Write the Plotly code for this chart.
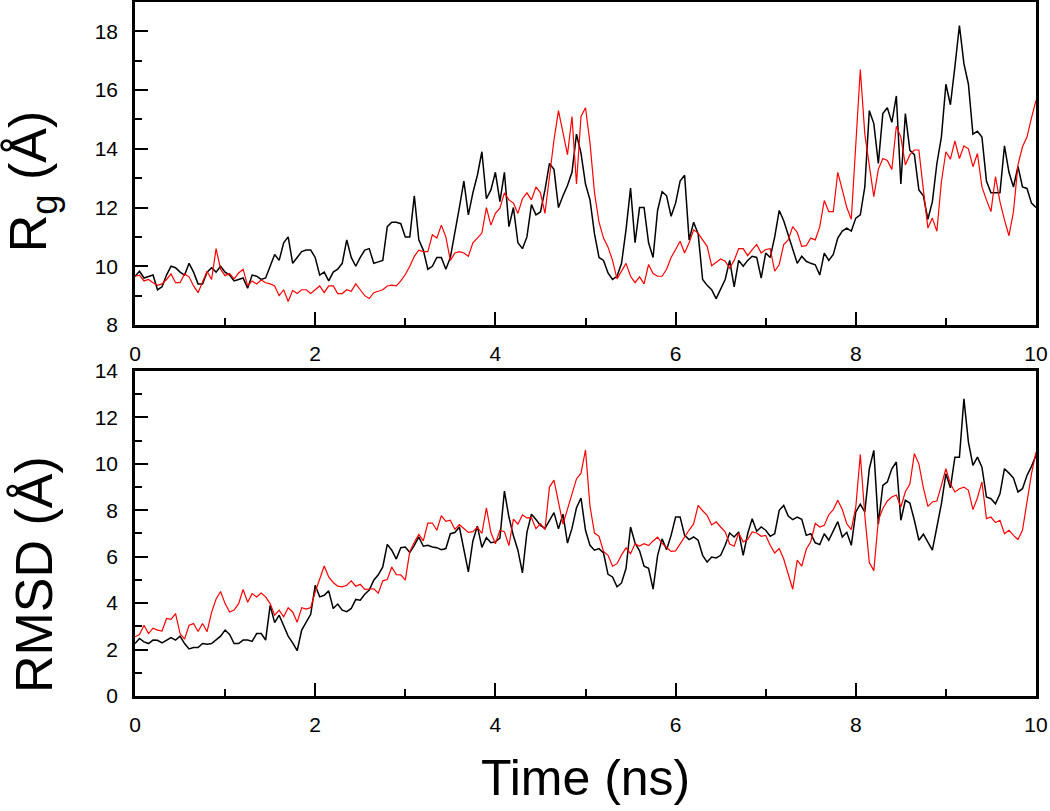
import numpy as np
import plotly.graph_objs as go

# tempo de simulacao (ns), amostrado a cada 0.05 ns
time_ns = np.round(np.arange(201) * 0.05, 2)

# raio de giro (A) - curva preta
rg_black = [
    9.66, 9.83, 9.6, 9.65, 9.7, 9.2, 9.3, 9.7, 10.0, 9.95,
    9.8, 9.7, 10.1, 9.8, 9.4, 9.4, 9.8, 9.95, 9.8, 10.0,
    9.8, 9.7, 9.5, 9.55, 9.6, 9.25, 9.7, 9.66, 9.55, 9.6,
    10.0, 10.4, 10.2, 10.8, 11.0, 10.1, 10.3, 10.5, 10.55, 10.55,
    10.3, 9.7, 9.8, 9.5, 9.8, 9.9, 10.1, 10.9, 10.3, 10.0,
    10.3, 10.55, 10.6, 10.1, 10.15, 10.2, 11.35, 11.5, 11.5, 11.45,
    11.0, 11.0, 12.4, 10.9, 10.55, 9.9, 10.0, 10.3, 10.3, 9.9,
    10.3, 11.1, 12.0, 12.9, 11.75, 12.5, 13.1, 13.9, 12.3, 12.6,
    13.2, 12.2, 13.2, 11.35, 12.0, 10.8, 10.6, 11.0, 12.1, 11.75,
    11.85, 12.6, 13.5, 13.3, 12.0, 12.4, 12.75, 13.2, 14.5, 13.85,
    12.8, 12.26, 11.1, 10.3, 10.2, 9.77, 9.55, 9.66, 10.1, 11.25,
    12.66, 10.8, 12.0, 12.0, 10.8, 10.3, 11.9, 12.54, 12.4, 11.7,
    12.15, 12.9, 13.1, 10.9, 11.5, 11.1, 9.55, 9.35, 9.2, 8.9,
    9.2, 9.55, 10.2, 9.3, 10.2, 10.0, 10.2, 10.34, 10.3, 9.6,
    10.45, 10.3, 11.0, 11.9, 11.55, 11.07, 10.6, 10.1, 10.34, 10.17,
    10.1, 10.05, 9.7, 10.45, 10.2, 10.4, 10.96, 11.2, 11.3, 11.2,
    11.64, 11.75, 12.7, 15.3, 14.86, 13.5, 15.2, 15.4, 14.9, 15.8,
    12.8, 15.2, 13.95, 13.8, 12.6, 12.4, 11.6, 12.2, 13.5, 14.4,
    16.2, 15.5, 16.8, 18.2, 16.9, 16.2, 14.5, 14.6, 14.4, 12.9,
    12.5, 12.5, 12.5, 14.1, 13.2, 12.7, 13.4, 12.7, 12.65, 12.15,
    12.0,
]

# raio de giro (A) - curva vermelha
rg_red = [
    9.66, 9.7, 9.5, 9.55, 9.44, 9.35, 9.4, 9.55, 9.74, 9.44,
    9.44, 9.74, 9.64, 9.33, 9.1, 9.5, 9.83, 9.55, 10.6, 9.9,
    9.68, 9.75, 9.57, 9.77, 9.9, 9.33, 9.5, 9.4, 9.53, 9.44,
    9.4, 9.33, 9.0, 9.2, 8.8, 9.18, 9.07, 9.2, 9.2, 9.07,
    9.2, 9.33, 9.1, 9.33, 9.33, 9.07, 9.07, 9.2, 9.15, 9.4,
    9.2, 9.0, 8.9, 9.1, 9.15, 9.2, 9.33, 9.36, 9.33, 9.5,
    9.72, 10.0, 10.34, 10.55, 10.5, 10.5, 11.07, 10.96, 11.4, 11.0,
    10.2, 10.45, 10.5, 10.45, 10.34, 10.8, 10.96, 11.13, 12.0, 11.4,
    11.8, 11.98, 12.5, 12.26, 12.15, 11.8, 12.3, 12.5, 12.26, 12.7,
    12.5, 11.8, 13.05, 14.3, 15.3, 14.5, 13.8, 15.1, 12.8, 15.1,
    15.4, 14.2, 12.5, 11.5, 10.96, 10.65, 10.2, 9.57, 9.83, 10.1,
    9.66, 9.44, 9.64, 9.4, 10.06, 9.75, 9.66, 9.66, 9.9, 10.3,
    10.57, 10.85, 10.45, 10.8, 11.24, 11.13, 10.9, 10.68, 10.02, 10.15,
    10.25, 10.17, 9.94, 10.2, 10.6, 10.6, 10.36, 10.57, 10.74, 10.45,
    10.57, 10.6, 9.83, 10.06, 10.74, 10.9, 11.35, 11.15, 10.68, 10.7,
    10.96, 10.9, 11.35, 12.24, 11.86, 11.86, 13.2, 12.6, 12.0, 11.6,
    14.24, 16.7, 14.5, 13.4, 12.37, 13.3, 13.67, 13.6, 13.3, 14.77,
    14.4, 13.45, 13.8, 13.96, 13.96, 12.6, 11.3, 11.64, 11.19, 12.88,
    13.9, 13.65, 14.27, 13.67, 14.1, 14.0, 13.39, 13.84, 12.7, 12.26,
    11.86, 13.05, 12.2, 11.58, 11.04, 11.86, 13.45, 14.07, 14.4, 15.05,
    15.65,
]

# RMSD (A) - curva preta
rmsd_black = [
    2.26, 2.48, 2.33, 2.26, 2.41, 2.4, 2.29, 2.41, 2.52, 2.41,
    2.58, 2.26, 2.03, 2.09, 2.09, 2.26, 2.23, 2.26, 2.43, 2.58,
    2.84, 2.65, 2.26, 2.26, 2.41, 2.41, 2.35, 2.69, 2.69, 2.41,
    3.9, 3.16, 3.48, 3.05, 2.58, 2.29, 1.95, 2.84, 3.2, 3.52,
    4.77, 4.27, 4.34, 4.53, 3.77, 3.96, 3.7, 3.63, 3.77, 4.16,
    4.13, 4.38, 4.56, 4.99, 5.22, 5.56, 6.53, 6.28, 5.9, 6.39,
    6.42, 6.18, 6.49, 6.85, 6.45, 6.49, 6.42, 6.39, 6.3, 6.35,
    6.99, 7.04, 7.28, 6.25, 5.35, 6.68, 7.32, 6.4, 6.82, 6.6,
    6.64, 6.8, 8.83, 7.71, 6.9, 6.28, 5.3, 7.05, 7.83, 7.6,
    7.35, 7.22, 7.57, 7.9, 7.2, 7.83, 6.59, 7.22, 8.11, 8.53,
    7.14, 6.49, 6.28, 6.35, 6.16, 5.24, 5.13, 4.7, 4.87, 5.5,
    7.28, 6.59, 6.25, 5.59, 5.5, 4.6, 6.05, 6.77, 6.3, 6.92,
    7.71, 7.71, 6.92, 6.74, 6.85, 6.71, 6.06, 5.77, 5.99, 5.95,
    6.06, 6.49, 7.02, 6.85, 7.07, 6.06, 6.99, 7.64, 7.1, 7.28,
    7.14, 6.88, 6.99, 8.0, 8.21, 7.75, 7.6, 7.71, 7.61, 6.92,
    6.99, 6.6, 6.52, 6.99, 6.71, 7.11, 7.51, 6.85, 7.05, 6.49,
    7.93, 8.26, 7.93, 9.79, 10.58, 7.4, 9.07, 9.22, 9.79, 10.08,
    7.57, 8.43, 8.31, 7.57, 6.71, 6.97, 6.59, 6.28, 7.28, 8.28,
    9.57, 8.97, 10.29, 10.29, 12.8, 10.94, 9.93, 10.29, 9.86, 8.57,
    8.5, 8.28, 8.71, 9.79, 9.6, 9.39, 8.79, 8.93, 9.5, 9.89,
    10.36,
]

# RMSD (A) - curva vermelha
rmsd_red = [
    2.55, 2.65, 3.05, 2.69, 2.92, 2.84, 2.8, 3.34, 3.3, 3.55,
    2.69, 2.45, 3.05, 3.12, 2.78, 3.12, 2.77, 3.6, 4.18, 4.5,
    3.98, 3.62, 3.7, 3.98, 4.59, 4.04, 4.41, 4.27, 4.44, 4.27,
    3.98, 3.48, 3.7, 3.41, 3.8, 3.62, 3.18, 3.8, 3.74, 3.81,
    4.48, 5.0, 5.6, 5.13, 4.89, 4.73, 4.7, 4.77, 4.96, 4.73,
    4.81, 4.59, 4.59, 4.62, 4.43, 4.96, 5.02, 5.56, 5.23, 5.22,
    4.99, 6.23, 6.62, 6.96, 6.68, 7.45, 7.45, 7.14, 7.77, 7.52,
    7.57, 7.18, 7.38, 7.2, 7.05, 7.08, 7.27, 7.0, 8.1, 7.04,
    6.56, 7.14, 7.08, 6.48, 7.62, 7.4, 7.8, 7.67, 7.68, 7.21,
    7.42, 7.17, 9.0, 9.3, 8.28, 7.4, 8.05, 8.66, 9.35, 9.6,
    10.6, 8.17, 7.02, 6.88, 6.23, 6.06, 5.59, 5.7, 6.08, 6.38,
    6.13, 6.56, 6.46, 6.56, 6.48, 6.68, 6.84, 6.58, 6.42, 6.23,
    6.25, 6.56, 6.88, 7.15, 7.41, 8.21, 7.98, 7.78, 7.37, 7.5,
    7.28, 7.07, 6.55, 6.45, 7.02, 6.64, 6.74, 7.07, 7.02, 6.88,
    6.92, 6.49, 6.16, 6.35, 5.9, 5.3, 4.6, 5.85, 5.59, 6.32,
    6.64, 7.44, 7.28, 7.35, 7.81, 8.03, 8.43, 8.03, 7.42, 7.17,
    8.14, 10.4, 7.78, 5.75, 5.4, 7.57, 8.08, 8.4, 8.57, 8.66,
    8.14, 8.8, 9.13, 10.44, 10.0, 8.97, 8.17, 8.36, 8.4, 9.07,
    9.79, 9.14, 8.79, 8.93, 9.0, 8.86, 8.03, 8.54, 9.22, 7.64,
    7.71, 7.47, 7.57, 6.99, 7.14, 6.92, 6.74, 7.14, 8.43, 9.57,
    10.51,
]

fonte = "Arial, Liberation Sans, sans-serif"

fig = go.Figure()
fig.add_trace(go.Scatter(x=time_ns, y=rg_black, mode='lines', line=dict(color='black', width=1.5), xaxis='x', yaxis='y'))
fig.add_trace(go.Scatter(x=time_ns, y=rg_red, mode='lines', line=dict(color='rgb(255,0,0)', width=1.2), xaxis='x', yaxis='y'))
fig.add_trace(go.Scatter(x=time_ns, y=rmsd_black, mode='lines', line=dict(color='black', width=1.5), xaxis='x2', yaxis='y2'))
fig.add_trace(go.Scatter(x=time_ns, y=rmsd_red, mode='lines', line=dict(color='rgb(255,0,0)', width=1.2), xaxis='x2', yaxis='y2'))

# estilo comum dos eixos (caixa fechada, ticks para dentro)
eixo = dict(
    showline=True, linecolor='black', linewidth=2.5, mirror=True,
    ticks='inside', ticklen=13, tickwidth=2, tickcolor='black',
    showgrid=False, zeroline=False, automargin=False,
    tickfont=dict(family=fonte, size=21, color='black'),
    minor=dict(ticks='inside', ticklen=7, tickwidth=2, tickcolor='black', dtick=1),
)

fig.update_layout(
    width=1050, height=811,
    plot_bgcolor='white', paper_bgcolor='white',
    showlegend=False,
    margin=dict(l=135, r=14, t=2, b=115),
    xaxis=dict(eixo, domain=[0, 1], range=[0, 10], dtick=2, anchor='y', ticklabelstandoff=8),
    yaxis=dict(eixo, domain=[0.5346, 1], range=[8, 19], tickvals=[8, 10, 12, 14, 16, 18], anchor='x', ticklabelstandoff=10),
    xaxis2=dict(eixo, domain=[0, 1], range=[0, 10], dtick=2, anchor='y2', ticklabelstandoff=8),
    yaxis2=dict(eixo, domain=[0, 0.4683], range=[0, 14], dtick=2, anchor='x2', ticklabelstandoff=10),
    annotations=[
        dict(text='R<sub>g</sub> (Å)', xref='paper', yref='paper', x=-0.114, y=0.742,
             textangle=-90, showarrow=False, xanchor='center', yanchor='middle',
             font=dict(family=fonte, size=52, color='black')),
        dict(text='RMSD (Å)', xref='paper', yref='paper', x=-0.112, y=0.1744,
             textangle=-90, showarrow=False, xanchor='center', yanchor='middle',
             font=dict(family=fonte, size=52, color='black')),
        dict(text='Time (ns)', xref='paper', yref='paper', x=0.5, y=-0.118,
             showarrow=False, xanchor='center', yanchor='middle',
             font=dict(family=fonte, size=50, color='black')),
    ],
)

# tira a margem do body para a figura ficar no canto da janela
fig.write_html("out.html", config={'displayModeBar': False},
               post_script="document.body.style.margin='0';document.body.style.overflow='hidden';")
